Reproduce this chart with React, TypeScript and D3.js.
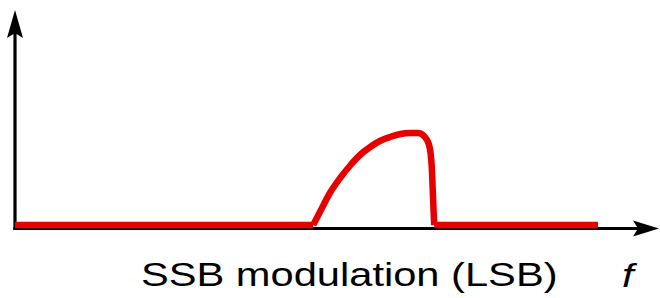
import React from "react";
import * as d3 from "d3";

// frequency (arbitrary units 0..100) and amplitude (0..1) of the SSB spectrum
const baselineLeft = [0, 46.6];
const baselineRight = [67.8, 91.1];
const bandFreq = [46.6, 47.8, 49.2, 50.8, 52.3, 53.9, 55.5, 57.0, 58.6, 60.2, 61.7, 63.0, 63.9, 64.7, 65.1, 65.3, 65.5];
const bandAmp = [0, 0.15, 0.32, 0.47, 0.59, 0.7, 0.78, 0.84, 0.88, 0.91, 0.92, 0.92, 0.89, 0.8, 0.6, 0.3, 0];
const axisLabel = "SSB modulation (LSB)";
const freqSymbol = "f";

const W = 660;
const H = 298;

export default function App() {
  const x = d3.scaleLinear().domain([0, 100]).range([15, 655]);
  const y = d3.scaleLinear().domain([0, 1]).range([225, 125]);

  const band = d3
    .line<[number, number]>()
    .x((d) => x(d[0]))
    .y((d) => y(d[1]))
    .curve(d3.curveMonotoneX)(bandFreq.map((f, i) => [f, bandAmp[i]] as [number, number]));

  const left = d3.line<number>().x((d) => x(d)).y(() => y(0))(baselineLeft);
  const right = d3
    .line<number>()
    .x((d) => x(d))
    .y(() => y(0))([bandFreq[bandFreq.length - 1], baselineRight[1]]);

  const axisY = 228.5;
  const axisX = 15;
  const sx = 1.225;

  return (
    <svg
      width={W}
      height={H}
      style={{ position: "absolute", left: 0, top: 0, background: "#fff" }}
    >
      {/* y axis */}
      <line x1={axisX} y1={axisY + 1.5} x2={axisX} y2={30} stroke="#000" strokeWidth={3.2} />
      <path d={`M${axisX},10 L${axisX + 8},38 L${axisX},33 L${axisX - 8},38 Z`} fill="#000" />
      {/* x axis */}
      <line x1={axisX - 1.6} y1={axisY} x2={640} y2={axisY} stroke="#000" strokeWidth={3.2} />
      <path d={`M659,${axisY} L633,${axisY - 8} L638,${axisY} L633,${axisY + 8} Z`} fill="#000" />
      {/* spectrum */}
      <g fill="none" stroke="#e60000" strokeWidth={6.5} strokeLinejoin="round" strokeLinecap="butt">
        <path d={left || ""} />
        <path d={band || ""} />
        <path d={right || ""} />
      </g>
      <g transform={`translate(141,286) scale(${sx},1)`}>
        <text
          x={0}
          y={0}
          fontFamily="'Liberation Sans', Arial, sans-serif"
          fontSize={34}
          fill="#000"
        >
          {axisLabel}
        </text>
      </g>
      <g transform={`translate(622,287) scale(${sx},1)`}>
        <text
          x={0}
          y={0}
          fontFamily="'Liberation Sans', Arial, sans-serif"
          fontStyle="italic"
          fontSize={34}
          fill="#000"
        >
          {freqSymbol}
        </text>
      </g>
    </svg>
  );
}
